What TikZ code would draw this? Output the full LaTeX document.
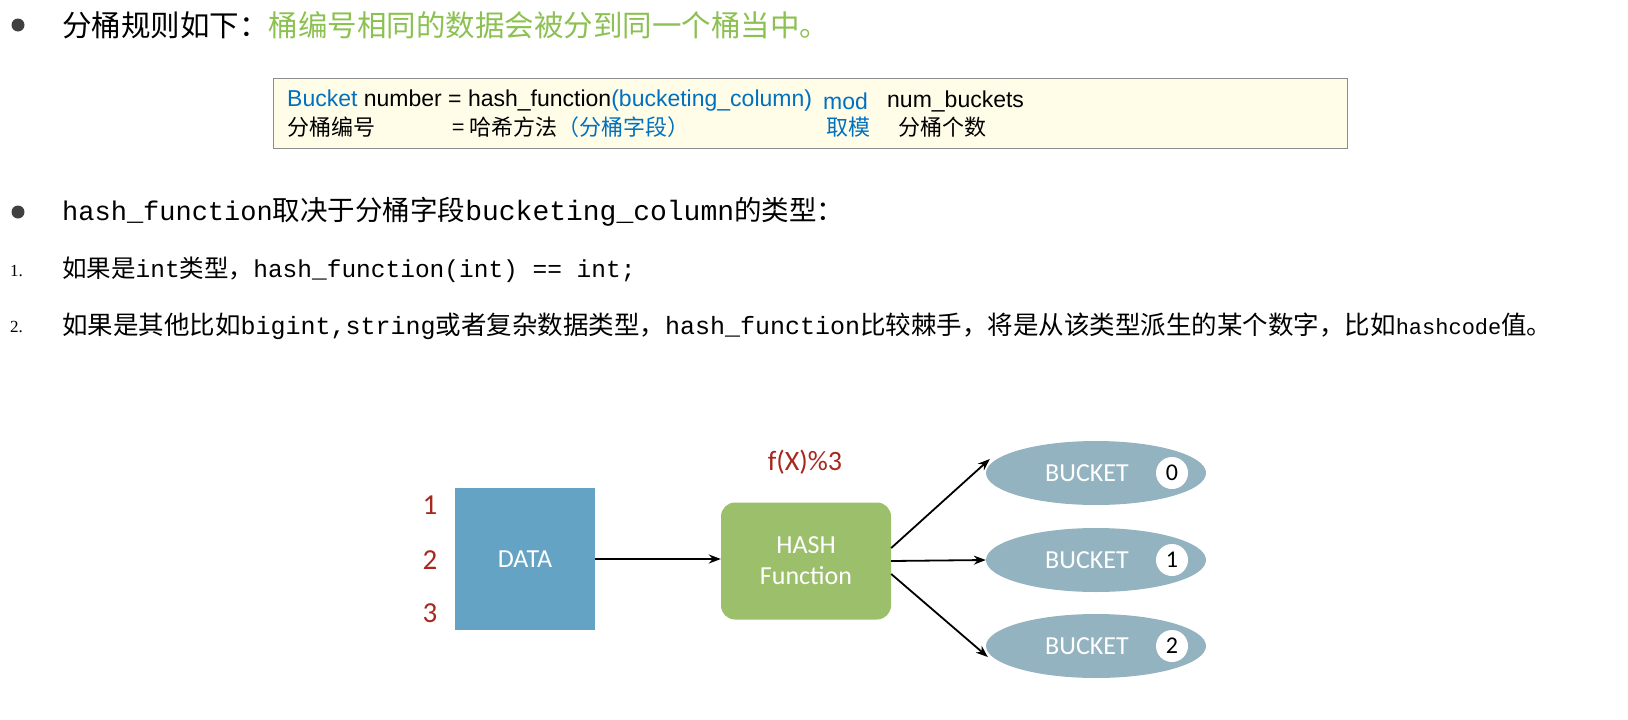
\documentclass[tikz,border=0pt]{standalone}
\usepackage{fontspec}
\setmainfont{Liberation Sans}
\newfontfamily\cjk{Noto Sans CJK SC}
\newfontfamily\mono{Liberation Mono}
\newfontfamily\diag{Carlito}
\newfontfamily\serifnum{Liberation Serif}
\usetikzlibrary{shapes.geometric,arrows.meta}
\definecolor{hgreen}{HTML}{8CC152}
\definecolor{fblue}{HTML}{0070C0}
\definecolor{boxbg}{HTML}{FFFDE8}
\definecolor{databl}{HTML}{64A3C3}
\definecolor{hashgr}{HTML}{9BBF6A}
\definecolor{bucketc}{HTML}{93B3C0}
\definecolor{dred}{HTML}{A8281E}
\begin{document}
\begin{tikzpicture}[x=1pt,y=-1pt,
  txt/.style={anchor=west,inner sep=0pt},
  conn/.style={-{Stealth[length=12pt,width=9pt]},line width=1.8pt},
  bucket/.style={ellipse,fill=bucketc,minimum width=220pt,minimum height=64pt,inner sep=0pt},
  num/.style={circle,fill=white,minimum size=32pt,inner sep=0pt,font=\diag\fontsize{24}{24}\selectfont},
  rnum/.style={text=dred,font=\diag\fontsize{29}{29}\selectfont,inner sep=0pt}]
\useasboundingbox (0,0) rectangle (1628,720);
% line 1
\fill[black!75] (18,25) circle (6.5);
\node[txt] (t1) at (62,25) {\cjk\fontsize{29.5}{30}\selectfont 分桶规则如下：\textcolor{hgreen}{桶编号相同的数据会被分到同一个桶当中。}};
% formula box
\node[draw=black!45,fill=boxbg,line width=1pt,minimum width=1074pt,minimum height=70pt,inner sep=0pt] (box) at (810,113) {};
\node[txt,font=\fontsize{23}{22}\selectfont] (f1a) at (287,101) {\textcolor{fblue}{Bucket} number = hash\_function\textcolor{fblue}{(bucketing\_column)}};
\node[txt,font=\fontsize{23}{22}\selectfont,text=fblue] (f1b) at (823,101) {mod};
\node[txt,font=\fontsize{23}{22}\selectfont] (f1c) at (887,101) {num\_buckets};
\node[txt,font=\cjk\fontsize{22}{22}\selectfont] (f2a) at (287,127) {分桶编号};
\node[txt,font=\cjk\fontsize{22}{22}\selectfont] (f2b) at (452,127) {= 哈希方法\textcolor{fblue}{（分桶字段）}};
\node[txt,font=\cjk\fontsize{22}{22}\selectfont,text=fblue] (f2c) at (826,127) {取模};
\node[txt,font=\cjk\fontsize{22}{22}\selectfont] (f2d) at (898,127) {分桶个数};
% bullet 2
\fill[black!75] (18,212) circle (6.5);
\node[txt] (t2) at (62,212) {{\mono\fontsize{27}{27}\selectfont hash\_function}{\cjk\fontsize{27.5}{27}\selectfont 取决于分桶字段}{\mono\fontsize{28}{28}\selectfont bucketing\_column}{\cjk\fontsize{27.5}{27}\selectfont 的类型：}};
\node[txt,font=\serifnum\fontsize{17}{17}\selectfont] (n1) at (10,271) {1.};
\node[txt] (t3) at (62,270) {{\cjk\fontsize{24.5}{24}\selectfont 如果是}{\mono\fontsize{24.5}{24}\selectfont int}{\cjk\fontsize{24.5}{24}\selectfont 类型，}{\mono\fontsize{24.5}{24}\selectfont hash\_function(int) == int;}};
\node[txt,font=\serifnum\fontsize{17}{17}\selectfont] (n2) at (10,327) {2.};
\node[txt] (t4) at (62,326) {{\cjk\fontsize{25.5}{25}\selectfont 如果是其他比如}{\mono\fontsize{25}{25}\selectfont bigint,string}{\cjk\fontsize{25.5}{25}\selectfont 或者复杂数据类型，}{\mono\fontsize{25}{25}\selectfont hash\_function}{\cjk\fontsize{25.5}{25}\selectfont 比较棘手，将是从该类型派生的某个数字，比如}{\mono\fontsize{22}{22}\selectfont hashcode}{\cjk\fontsize{25.5}{25}\selectfont 值。}};
% diagram
\node[fill=databl,minimum width=140pt,minimum height=142pt,inner sep=0pt,text=white,font=\diag\fontsize{26}{26}\selectfont] (data) at (525,559) {DATA};
\node[rnum] (r1) at (430,505) {1};
\node[rnum] (r2) at (430,560) {2};
\node[rnum] (r3) at (430,613) {3};
\node[fill=hashgr,rounded corners=14pt,minimum width=170pt,minimum height=117pt,inner sep=0pt,text=white,align=center,font=\diag\fontsize{26}{31}\selectfont] (hash) at (806,561) {HASH\\Function};
\node[text=dred,font=\diag\fontsize{28}{28}\selectfont,inner sep=0pt] (fx) at (805,462) {f(X)\%3};
\foreach \i/\y in {0/473,1/560,2/646}{
  \node[bucket] (b\i) at (1096,\y) {};
  \node[txt,text=white,font=\diag\fontsize{26}{26}\selectfont] (bt\i) at (1045,\y) {BUCKET};
  \node[num] (c\i) at (1172,\y) {\i};
}
\draw[conn] (data.east) -- (hash.west |- data.east);
\draw[conn] ([yshift=13pt]hash.east) -- ([xshift=4pt,yshift=14pt]b0.west);
\draw[conn] (hash.east) -- (b1.west);
\draw[conn] ([yshift=-13pt]hash.east) -- ([xshift=2pt,yshift=-11pt]b2.west);
\end{tikzpicture}
\end{document}
